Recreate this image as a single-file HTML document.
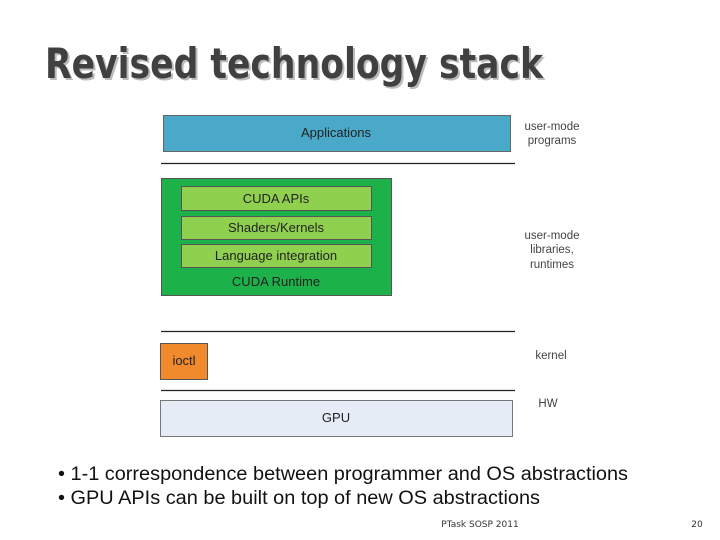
<!DOCTYPE html>
<html><head><style>body{margin:0;background:#fff}svg{display:block}</style></head>
<body>
<svg width="720" height="540" xmlns="http://www.w3.org/2000/svg" font-family="Liberation Sans, Arial, sans-serif">
<text x="47" y="80" font-family="DejaVu Sans" font-weight="bold" font-size="42" fill="#bbb" textLength="498" lengthAdjust="spacingAndGlyphs">Revised technology stack</text>
<text x="45" y="78" font-family="DejaVu Sans" font-weight="bold" font-size="42" fill="#404040" textLength="498" lengthAdjust="spacingAndGlyphs">Revised technology stack</text>
<rect x="163.5" y="115.5" width="347" height="36" fill="#4aa9c8" stroke="#666"/>
<text x="336" y="137" font-size="13" text-anchor="middle" fill="#222">Applications</text>
<line x1="161" y1="163.5" x2="515" y2="163.5" stroke="#222" stroke-width="1.3"/>
<rect x="161.5" y="178.5" width="230" height="117" fill="#1db149" stroke="#555"/>
<rect x="181.5" y="186.5" width="190" height="24" fill="#8fd14f" stroke="#555"/>
<text x="276" y="203" font-size="13" text-anchor="middle" fill="#222">CUDA APIs</text>
<rect x="181.5" y="216.5" width="190" height="23" fill="#8fd14f" stroke="#555"/>
<text x="276" y="232" font-size="13" text-anchor="middle" fill="#222">Shaders/Kernels</text>
<rect x="181.5" y="244.5" width="190" height="23" fill="#8fd14f" stroke="#555"/>
<text x="276" y="260" font-size="13" text-anchor="middle" fill="#222">Language integration</text>
<text x="276" y="286" font-size="13" text-anchor="middle" fill="#222">CUDA Runtime</text>
<line x1="161" y1="331.5" x2="515" y2="331.5" stroke="#222" stroke-width="1.3"/>
<rect x="160.5" y="343.5" width="47" height="36" fill="#f08a2c" stroke="#555"/>
<text x="184" y="365" font-size="13" text-anchor="middle" fill="#222">ioctl</text>
<line x1="161" y1="390.5" x2="515" y2="390.5" stroke="#222" stroke-width="1.3"/>
<rect x="160.5" y="400.5" width="352" height="36" fill="#e6ecf5" stroke="#777"/>
<text x="336" y="422" font-size="13" text-anchor="middle" fill="#222">GPU</text>
<g font-size="11.5" fill="#444" text-anchor="middle">
<text x="552" y="130">user-mode</text><text x="552" y="144">programs</text>
<text x="552" y="239">user-mode</text><text x="552" y="253">libraries,</text><text x="552" y="268">runtimes</text>
<text x="551" y="359">kernel</text>
<text x="548" y="407">HW</text>
</g>
<text x="58" y="480" font-size="19" fill="#111" textLength="570" lengthAdjust="spacingAndGlyphs">• 1-1 correspondence between programmer and OS abstractions</text>
<text x="58" y="504" font-size="19" fill="#111" textLength="482" lengthAdjust="spacingAndGlyphs">• GPU APIs can be built on top of new OS abstractions</text>
<text x="480" y="527" font-family="DejaVu Sans" font-size="9" fill="#333" text-anchor="middle">PTask SOSP 2011</text>
<text x="697" y="527" font-family="DejaVu Sans" font-size="9" fill="#333" text-anchor="middle">20</text>
</svg>
</body></html>
